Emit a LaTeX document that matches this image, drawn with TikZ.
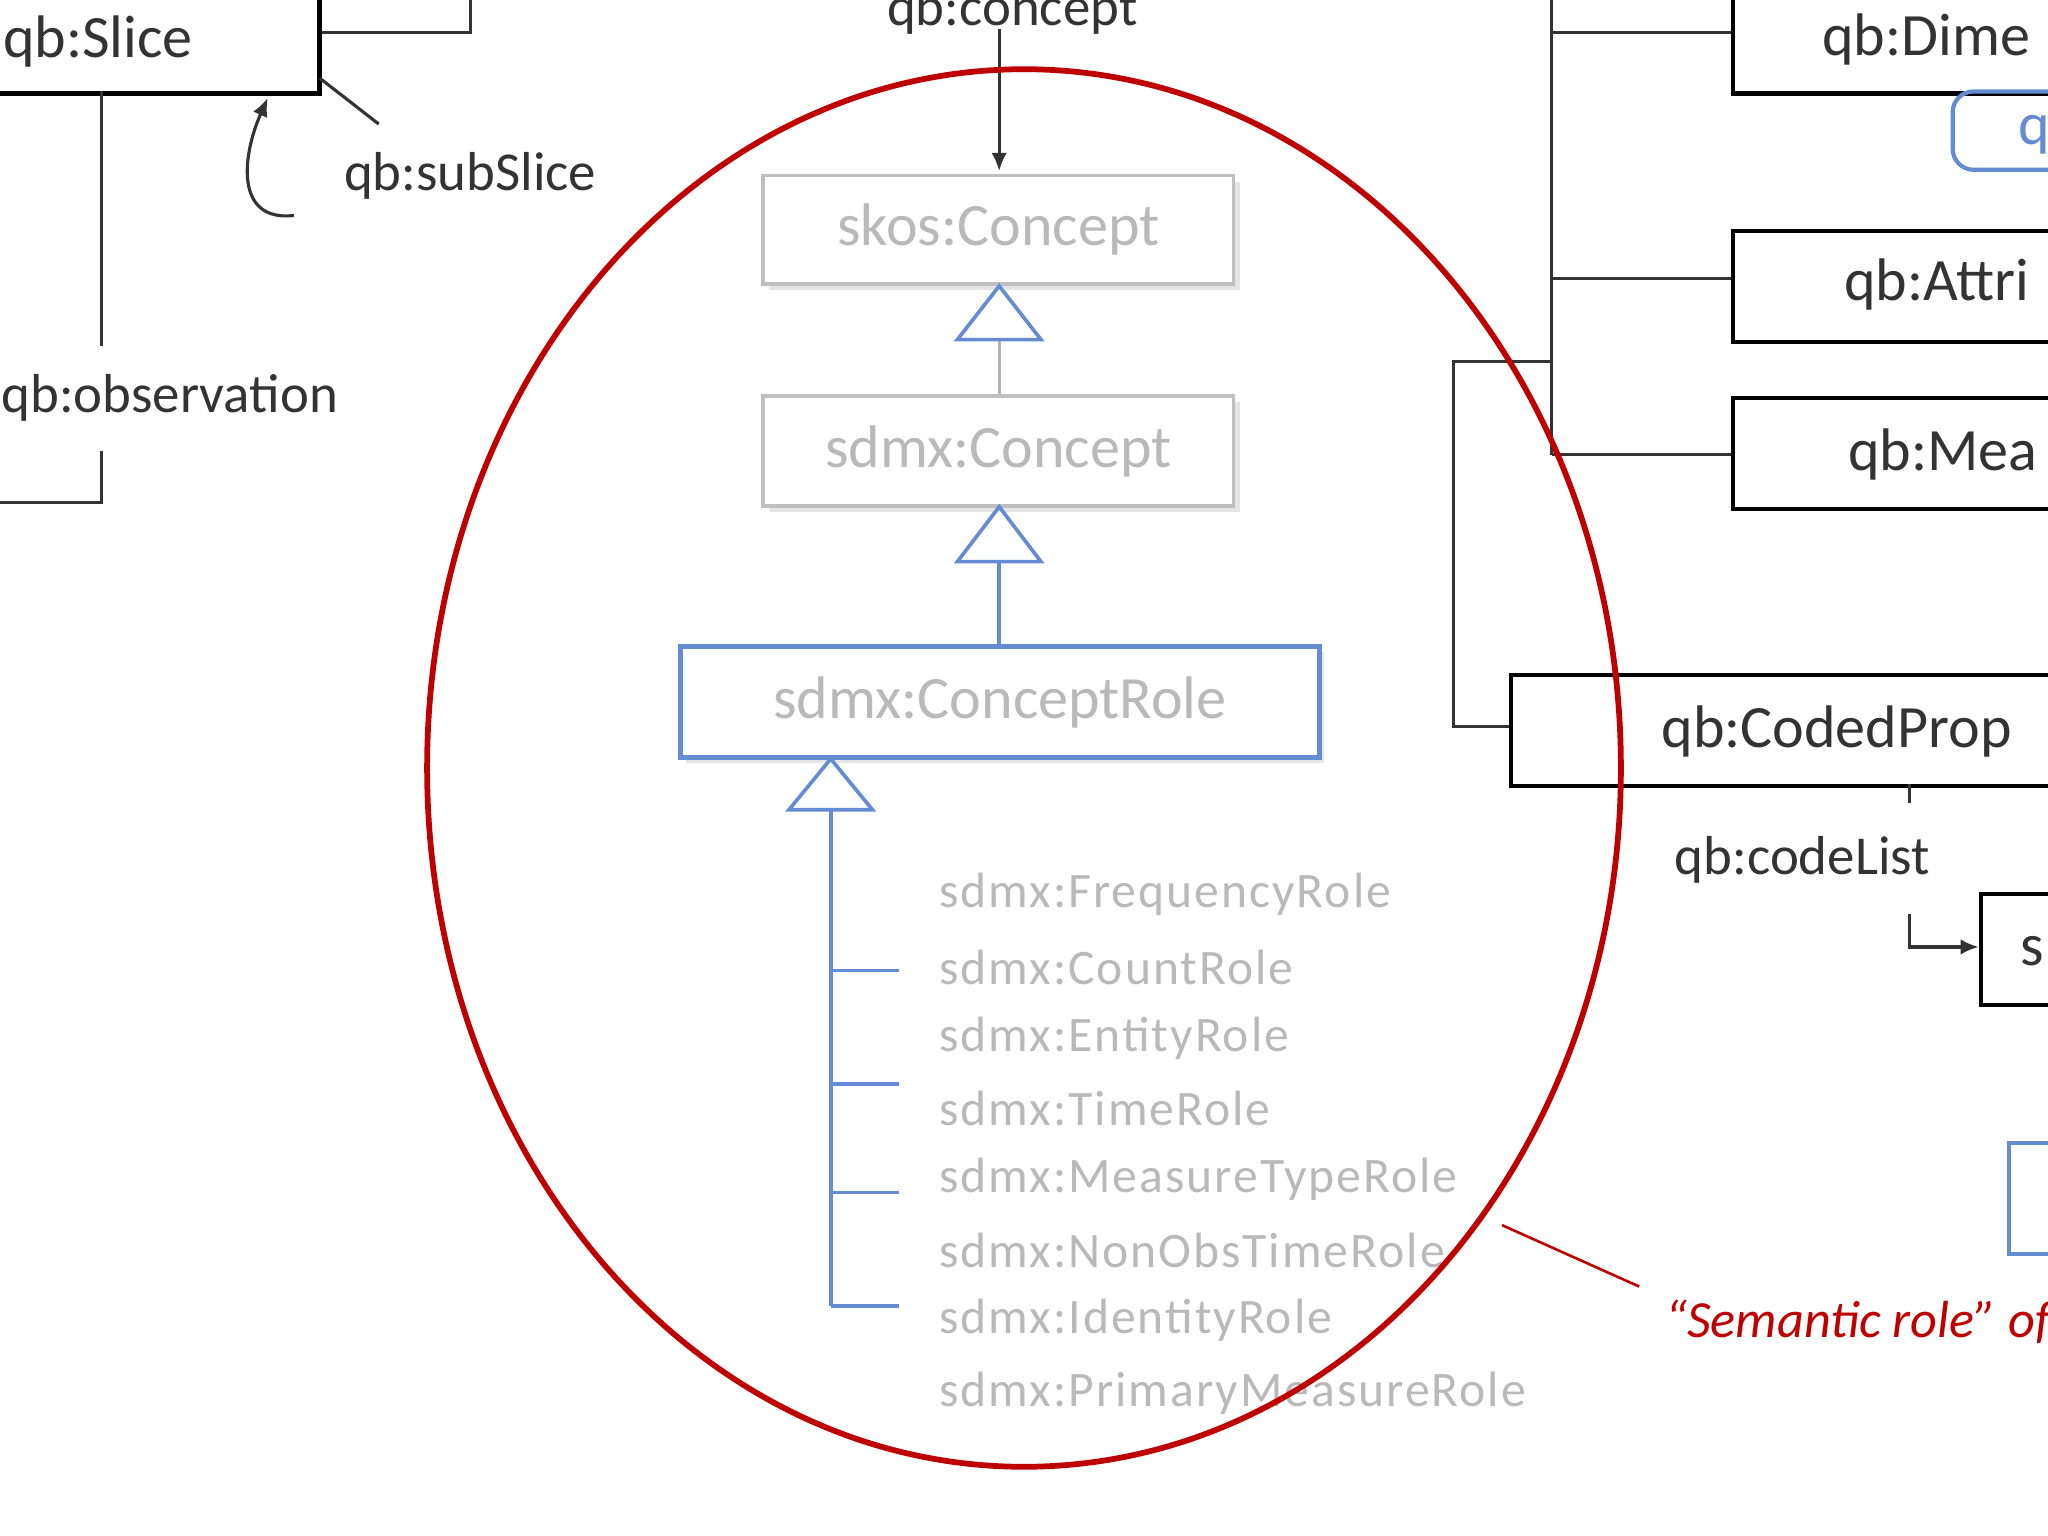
\documentclass[tikz,border=0pt]{standalone}
\usepackage{fontspec}
\setmainfont{Carlito}
\usetikzlibrary{arrows.meta}
\definecolor{softblue}{RGB}{100,140,210}
\begin{document}
\begin{tikzpicture}[x=0.5pt,y=-0.5pt,
  blk/.style={draw=black,line width=1.6pt,fill=white,inner sep=0pt},
  gbox/.style={draw=gray!50,line width=1.4pt,fill=white,inner sep=0pt},
  lbl/.style={font=\fontsize{21}{24}\selectfont,text=black!80},
  role/.style={font=\fontsize{19}{22}\selectfont\addfontfeatures{LetterSpace=4}},
  tri/.style={draw=softblue,line width=1.4pt,fill=white},
  conn/.style={line width=1.2pt,black!80},
  arr/.style={-{Latex[length=7pt,width=6pt]}}]
\tikzset{role/.style={font=\fontsize{19}{22}\selectfont\addfontfeatures{LetterSpace=4},text=gray!55,anchor=west}}
\useasboundingbox (0,0) rectangle (1568,1176);
\clip (0,0) rectangle (1568,1176);
% left part
\draw[conn] (243,25) -- (360,25) -- (360,-10);
\node[blk,minimum width=126.5pt,minimum height=40pt,anchor=north west] (slice) at (-10,-10) {};
\node[lbl,font=\fontsize{23}{26}\selectfont] at (75,32) {qb:Slice};
\draw[conn] (245,60) -- (290,95);
\draw[conn,arr] (225,165) .. controls (180,170) and (185,120) .. (205,75);
\node[lbl] (sub) at (360,135) {qb:subSlice};
\draw[conn] (78,70) -- (78,265);
\node[lbl] (obs) at (130,305) {qb:observation};
\draw[conn] (78,345) -- (78,385) -- (-5,385);
% center
\node[lbl] (qc) at (775,8) {qb:concept};
\coordinate (qct) at (765,22);
\coordinate (skt) at (765,131);
\draw[conn,arr] (qct) -- (skt);
\fill[gray!20] (589,139) rectangle (949,222);
\node[gbox,minimum width=180pt,minimum height=41.5pt,anchor=north west,font=\fontsize{23}{26}\selectfont,text=gray!55] (skos) at (583,133) {skos:Concept};
\draw[gray!60,line width=1.2pt] (765,258) -- (765,302);
\draw[tri] (765,219) -- (797,260) -- (733,260) -- cycle;
\fill[gray!20] (589,308) rectangle (949,392);
\node[gbox,minimum width=180pt,minimum height=42pt,anchor=north west,font=\fontsize{23}{26}\selectfont,text=gray!55] (sdc) at (583,302) {sdmx:Concept};
\draw[softblue,line width=1.4pt] (765,430) -- (765,493);
\draw[tri] (765,388) -- (797,430) -- (733,430) -- cycle;
\fill[gray!20] (525,499) rectangle (1014,584);
\node[draw=softblue,line width=2pt,fill=white,inner sep=0pt,minimum width=244.5pt,minimum height=42.5pt,anchor=north west,font=\fontsize{23}{26}\selectfont,text=gray!55] (cr) at (519,493) {sdmx:ConceptRole};
\draw[softblue,line width=1.4pt] (636,620) -- (636,1000);
\foreach \y in {743,830,913,1000} \draw[softblue,line width=1.4pt] (636,\y) -- (688,\y);
\draw[tri] (636,581) -- (668,620) -- (604,620) -- cycle;
\node[role] at (712,685) {sdmx:FrequencyRole};
\node[role] at (712,741) {sdmx:CountRole};
\node[role] at (712,795) {sdmx:EntityRole};
\node[role] at (712,849) {sdmx:TimeRole};
\node[role] at (712,903) {sdmx:MeasureTypeRole};
\node[role] at (712,957) {sdmx:NonObsTimeRole};
\node[role] at (712,1011) {sdmx:IdentityRole};
\node[role] at (712,1067) {sdmx:PrimaryMeasureRole};
% right
\draw[conn] (1188,-10) -- (1188,348);
\draw[conn] (1188,25) -- (1325,25);
\draw[conn] (1188,213) -- (1325,213);
\draw[conn] (1188,348) -- (1325,348);
\draw[conn] (1188,277) -- (1113,277) -- (1113,556) -- (1155,556);
\node[blk,minimum width=135pt,minimum height=40pt,anchor=north west] (dim) at (1325,-10) {};
\node[lbl,font=\fontsize{23}{26}\selectfont,anchor=west] at (1388,30) {qb:Dime};
\draw[softblue,line width=1.6pt,rounded corners=8] (1575,70) -- (1495,70) -- (1495,130) -- (1575,130);
\node[font=\fontsize{23}{26}\selectfont,text=softblue,anchor=west] at (1538,103) {q};
\node[blk,minimum width=135pt,minimum height=42.5pt,anchor=north west] (att) at (1325,175) {};
\node[lbl,font=\fontsize{23}{26}\selectfont,anchor=west] at (1405,218) {qb:Attri};
\node[blk,minimum width=135pt,minimum height=42.5pt,anchor=north west] (mea) at (1325,303) {};
\node[lbl,font=\fontsize{23}{26}\selectfont,anchor=west] at (1408,348) {qb:Mea};
\node[blk,minimum width=220pt,minimum height=42.5pt,anchor=north west] (cod) at (1155,515) {};
\node[lbl,font=\fontsize{23}{26}\selectfont,anchor=west] at (1265,560) {qb:CodedProp};
\draw[conn] (1462,600) -- (1462,615);
\node[lbl] (cl) at (1380,658) {qb:codeList};
\draw[conn,arr] (1462,700) -- (1462,725) -- (1515,725);
\node[blk,minimum width=40pt,minimum height=42.5pt,anchor=north west] (sb) at (1515,683) {};
\node[lbl,font=\fontsize{23}{26}\selectfont,anchor=west] at (1540,728) {s};
\draw[softblue,line width=1.6pt] (1580,875) -- (1538,875) -- (1538,960) -- (1580,960);
% highlight
\draw[red!75!black,line width=2.2pt] (784,588) ellipse [x radius=457,y radius=535];
\draw[red!75!black,line width=1pt] (1150,938) -- (1255,985);
\node[anchor=west,text=red!75!black,font=\fontsize{20}{24}\selectfont\itshape] at (1268,1012) {“Semantic role” of};
\end{tikzpicture}
\end{document}
